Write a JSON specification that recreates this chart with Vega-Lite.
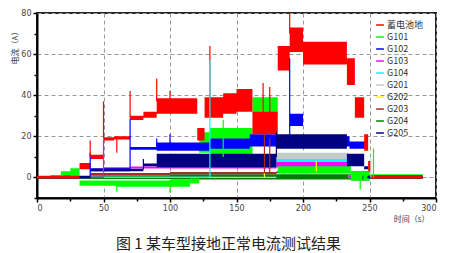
{
  "$schema": "https://vega.github.io/schema/vega-lite/v6.json",
  "width": 399,
  "height": 185,
  "autosize": {"type": "none"},
  "padding": {"left": 37, "top": 13, "right": 22, "bottom": 55},
  "background": "white",
  "config": {"view": {"stroke": "#222", "strokeWidth": 2}, "font": "DejaVu Sans"},
  "title": {"text": "图 1 某车型接地正常电流测试结果", "orient": "bottom", "anchor": "middle", "font": "Noto Sans CJK SC", "fontSize": 15, "fontWeight": "normal", "color": "#222", "offset": 14, "dx": -8},
  "datasets": {
    "bands": [
      {"s": "G202", "t": 0, "lo": -0.3, "hi": 0.4},
      {"s": "G202", "t": 250, "lo": -0.3, "hi": 0.4},
      {"s": "G202", "t": 255, "lo": -0.3, "hi": 0.4},
      {"s": "G204", "t": 0, "lo": -0.6, "hi": 0.4},
      {"s": "G204", "t": 40, "lo": -0.8, "hi": 1},
      {"s": "G204", "t": 100, "lo": -1, "hi": 1.5},
      {"s": "G204", "t": 180, "lo": -1, "hi": 1.5},
      {"s": "G204", "t": 236, "lo": -1.5, "hi": 1},
      {"s": "G204", "t": 250, "lo": -0.6, "hi": 0.8},
      {"s": "G204", "t": 290, "lo": -0.6, "hi": 0.8},
      {"s": "G203", "t": 0, "lo": -0.3, "hi": 0.5},
      {"s": "G203", "t": 40, "lo": 1, "hi": 2.2},
      {"s": "G203", "t": 100, "lo": 1.5, "hi": 2.6},
      {"s": "G203", "t": 180, "lo": 2, "hi": 3},
      {"s": "G203", "t": 250, "lo": -0.3, "hi": 0.6},
      {"s": "G203", "t": 290, "lo": -0.3, "hi": 0.6},
      {"s": "G201", "t": 0, "lo": -0.3, "hi": 0.3},
      {"s": "G201", "t": 180, "lo": 9, "hi": 12},
      {"s": "G201", "t": 234, "lo": 0, "hi": 1},
      {"s": "G201", "t": 250, "lo": -0.3, "hi": 0.3},
      {"s": "G201", "t": 252, "lo": -0.3, "hi": 0.3},
      {"s": "G104", "t": 0, "lo": -0.3, "hi": 0.3},
      {"s": "G104", "t": 130, "lo": 6, "hi": 7},
      {"s": "G104", "t": 180, "lo": 7.5, "hi": 9},
      {"s": "G104", "t": 234, "lo": 0, "hi": 1},
      {"s": "G104", "t": 250, "lo": -0.3, "hi": 0.3},
      {"s": "G104", "t": 252, "lo": -0.3, "hi": 0.3},
      {"s": "G103", "t": 0, "lo": -0.3, "hi": 0.3},
      {"s": "G103", "t": 50, "lo": 4, "hi": 5},
      {"s": "G103", "t": 70, "lo": 4.3, "hi": 5.3},
      {"s": "G103", "t": 180, "lo": 4.8, "hi": 7.5},
      {"s": "G103", "t": 234, "lo": 0, "hi": 1},
      {"s": "G103", "t": 250, "lo": -0.3, "hi": 0.3},
      {"s": "G103", "t": 252, "lo": -0.3, "hi": 0.3},
      {"s": "G101", "t": 0, "lo": -0.5, "hi": 0.5},
      {"s": "G101", "t": 10, "lo": -0.2, "hi": 1.2},
      {"s": "G101", "t": 18, "lo": 0.5, "hi": 3},
      {"s": "G101", "t": 25, "lo": 1, "hi": 4.5},
      {"s": "G101", "t": 32, "lo": -4, "hi": -1.5},
      {"s": "G101", "t": 60, "lo": -4.5, "hi": -1.5},
      {"s": "G101", "t": 100, "lo": -4.5, "hi": -1},
      {"s": "G101", "t": 115, "lo": -3, "hi": -0.5},
      {"s": "G101", "t": 122, "lo": 12, "hi": 22},
      {"s": "G101", "t": 130, "lo": 10, "hi": 24},
      {"s": "G101", "t": 162, "lo": 31, "hi": 39},
      {"s": "G101", "t": 181, "lo": 2, "hi": 5.5},
      {"s": "G101", "t": 236, "lo": -1.5, "hi": 3},
      {"s": "G101", "t": 250, "lo": -0.5, "hi": 1.5},
      {"s": "G101", "t": 290, "lo": -0.5, "hi": 1.5},
      {"s": "G102", "t": 0, "lo": -0.3, "hi": 0.3},
      {"s": "G102", "t": 40, "lo": 3, "hi": 4.5},
      {"s": "G102", "t": 70, "lo": 13.5, "hi": 14.8},
      {"s": "G102", "t": 90, "lo": 13, "hi": 17},
      {"s": "G102", "t": 130, "lo": 14, "hi": 19},
      {"s": "G102", "t": 160, "lo": 15, "hi": 21},
      {"s": "G102", "t": 181, "lo": 15, "hi": 20},
      {"s": "G102", "t": 190, "lo": 25, "hi": 31},
      {"s": "G102", "t": 200, "lo": 15, "hi": 20},
      {"s": "G102", "t": 235, "lo": 14, "hi": 17.5},
      {"s": "G102", "t": 248, "lo": -0.3, "hi": 0.5},
      {"s": "G102", "t": 250, "lo": -0.3, "hi": 0.5},
      {"s": "G205", "t": 0, "lo": -0.5, "hi": 0.3},
      {"s": "G205", "t": 20, "lo": -0.5, "hi": 0.8},
      {"s": "G205", "t": 40, "lo": 3, "hi": 4.2},
      {"s": "G205", "t": 80, "lo": 5.5, "hi": 6.8},
      {"s": "G205", "t": 90, "lo": 5, "hi": 11.5},
      {"s": "G205", "t": 180, "lo": 14, "hi": 21},
      {"s": "G205", "t": 233, "lo": 5.5, "hi": 11.5},
      {"s": "G205", "t": 246, "lo": 4, "hi": 5.5},
      {"s": "G205", "t": 249, "lo": -0.5, "hi": 1},
      {"s": "G205", "t": 290, "lo": -0.5, "hi": 1},
      {"s": "蓄电池地", "t": 0, "lo": -0.5, "hi": 0.8},
      {"s": "蓄电池地", "t": 32, "lo": 4, "hi": 7},
      {"s": "蓄电池地", "t": 40, "lo": 9, "hi": 11},
      {"s": "蓄电池地", "t": 50, "lo": 18, "hi": 19.5},
      {"s": "蓄电池地", "t": 58, "lo": 18.5, "hi": 20},
      {"s": "蓄电池地", "t": 70, "lo": 28, "hi": 30},
      {"s": "蓄电池地", "t": 80, "lo": 29, "hi": 32},
      {"s": "蓄电池地", "t": 90, "lo": 31, "hi": 38.5},
      {"s": "蓄电池地", "t": 120.5, "lo": 18, "hi": 24},
      {"s": "蓄电池地", "t": 126, "lo": 29, "hi": 39},
      {"s": "蓄电池地", "t": 140, "lo": 31, "hi": 41},
      {"s": "蓄电池地", "t": 150, "lo": 32, "hi": 43},
      {"s": "蓄电池地", "t": 162, "lo": 21, "hi": 32},
      {"s": "蓄电池地", "t": 181, "lo": 52, "hi": 64},
      {"s": "蓄电池地", "t": 190, "lo": 61, "hi": 73},
      {"s": "蓄电池地", "t": 200, "lo": 55, "hi": 66},
      {"s": "蓄电池地", "t": 233, "lo": 45, "hi": 58},
      {"s": "蓄电池地", "t": 239, "lo": 29, "hi": 39},
      {"s": "蓄电池地", "t": 246, "lo": 13, "hi": 21},
      {"s": "蓄电池地", "t": 249, "lo": 3, "hi": 8},
      {"s": "蓄电池地", "t": 251, "lo": -0.5, "hi": 0.8},
      {"s": "蓄电池地", "t": 290, "lo": -0.5, "hi": 0.8}
    ],
    "spikes": [
      {"s": "G202", "t": 171, "lo": 0, "hi": 3},
      {"s": "G202", "t": 210, "lo": 3, "hi": 8},
      {"s": "G203", "t": 171, "lo": 2, "hi": 21},
      {"s": "G203", "t": 175, "lo": 2, "hi": 19},
      {"s": "G201", "t": 251, "lo": 0, "hi": 9},
      {"s": "G101", "t": 60, "lo": -7, "hi": -2},
      {"s": "G101", "t": 100, "lo": -7.5, "hi": -2},
      {"s": "G101", "t": 140, "lo": 10, "hi": 28},
      {"s": "G101", "t": 243, "lo": -6, "hi": 0},
      {"s": "G101", "t": 253, "lo": 0, "hi": 14},
      {"s": "G103", "t": 50, "lo": 0, "hi": 18.5},
      {"s": "G102", "t": 40, "lo": 0, "hi": 12},
      {"s": "G102", "t": 70, "lo": 4, "hi": 28.5},
      {"s": "G102", "t": 90, "lo": 14, "hi": 19},
      {"s": "G102", "t": 100, "lo": 16, "hi": 21},
      {"s": "G102", "t": 190, "lo": 20, "hi": 58},
      {"s": "G205", "t": 80, "lo": 4, "hi": 9},
      {"s": "G205", "t": 180, "lo": 10, "hi": 22},
      {"s": "G204", "t": 245, "lo": -1, "hi": 1},
      {"s": "蓄电池地", "t": 40, "lo": 10, "hi": 18},
      {"s": "蓄电池地", "t": 50, "lo": 19, "hi": 37},
      {"s": "蓄电池地", "t": 60, "lo": 12, "hi": 19},
      {"s": "蓄电池地", "t": 70, "lo": 29, "hi": 42},
      {"s": "蓄电池地", "t": 90, "lo": 37, "hi": 48},
      {"s": "蓄电池地", "t": 100, "lo": 37, "hi": 42},
      {"s": "蓄电池地", "t": 130, "lo": 38, "hi": 64},
      {"s": "蓄电池地", "t": 170, "lo": 30, "hi": 46},
      {"s": "蓄电池地", "t": 175, "lo": 30, "hi": 44},
      {"s": "蓄电池地", "t": 190, "lo": 70, "hi": 80},
      {"s": "G104", "t": 130, "lo": 0, "hi": 57}
    ]
  },
  "layer": [
    {
      "data": {"name": "bands"},
      "mark": {"type": "area", "interpolate": "step-after", "opacity": 1},
      "encoding": {
        "x": {
          "field": "t", "type": "quantitative",
          "scale": {"domain": [0, 300], "nice": false},
          "axis": {
            "values": [0, 50, 100, 150, 200, 250, 300],
            "labelOverlap": false,
            "grid": true, "gridDash": [4, 3], "gridColor": "#999",
            "domainColor": "#000", "domainWidth": 2, "tickColor": "#000", "tickWidth": 1.5, "tickSize": 4,
            "labelFontSize": 8, "labelColor": "#444", "labelPadding": 2,
            "title": "时间（s）", "titleFont": "Noto Sans CJK SC", "titleFontSize": 8, "titleFontWeight": "normal", "titleColor": "#444",
            "titleX": 392, "titleY": 21, "titleAlign": "right", "titleBaseline": "middle"
          }
        },
        "y": {
          "field": "hi", "type": "quantitative",
          "scale": {"domain": [-10, 80], "nice": false},
          "axis": {
            "values": [0, 20, 40, 60, 80],
            "labelOverlap": false,
            "grid": true, "gridDash": [4, 3], "gridColor": "#999",
            "domainColor": "#000", "domainWidth": 2, "tickColor": "#000", "tickWidth": 1.5, "tickSize": 4,
            "labelFontSize": 8, "labelColor": "#444", "labelPadding": 2,
            "title": "电流（A）", "titleFont": "Noto Sans CJK SC", "titleFontSize": 8, "titleFontWeight": "normal", "titleColor": "#444",
            "titleX": -22, "titleY": 14, "titleAngle": -90, "titleAlign": "right", "titleBaseline": "middle"
          }
        },
        "y2": {"field": "lo"},
        "fill": {
          "field": "s", "type": "nominal",
          "scale": {"domain": ["G202", "G204", "G203", "G201", "G104", "G103", "G101", "G102", "G205", "蓄电池地"],
                    "range": ["#ffff00", "#008000", "#a52a2a", "#c8c8c8", "#00ffff", "#ff00ff", "#00ff00", "#0000ff", "#000080", "#ff0000"]},
          "legend": null
        }
      }
    },
    {
      "data": {"name": "spikes"},
      "mark": {"type": "rule", "strokeWidth": 1.2},
      "encoding": {
        "x": {
          "field": "t", "type": "quantitative",
          "axis": {"orient": "bottom", "values": [25, 75, 125, 175, 225, 275], "labels": false, "grid": false, "domain": false,
                   "tickColor": "#000", "tickWidth": 1.5, "tickSize": 3, "title": null}
        },
        "y": {
          "field": "lo", "type": "quantitative",
          "axis": {"orient": "left", "values": [-10, 10, 30, 50, 70], "labels": false, "grid": false, "domain": false,
                   "tickColor": "#000", "tickWidth": 1.5, "tickSize": 3, "title": null}
        },
        "y2": {"field": "hi"},
        "stroke": {
          "field": "s", "type": "nominal",
          "scale": {"domain": ["蓄电池地", "G101", "G102", "G103", "G104", "G201", "G202", "G203", "G204", "G205"],
                    "range": ["#ff0000", "#00ff00", "#0000ff", "#ff00ff", "#00ffff", "#c8c8c8", "#ffff00", "#a52a2a", "#008000", "#000080"]},
          "legend": {
            "orient": "none", "legendX": 338, "legendY": 7, "title": null, "padding": 0,
            "symbolType": "stroke", "symbolSize": 60, "symbolStrokeWidth": 1.5,
            "labelFont": "Noto Sans CJK SC", "labelFontSize": 9, "labelColor": "#333", "labelOffset": 2, "rowPadding": 2
          }
        }
      }
    }
  ],
  "resolve": {"axis": {"x": "independent", "y": "independent"}}
}
